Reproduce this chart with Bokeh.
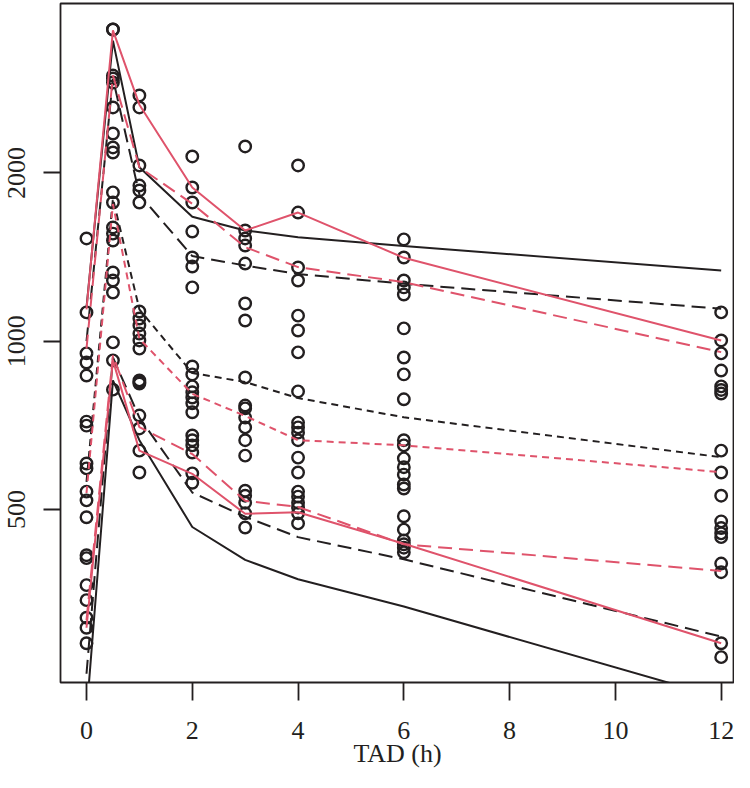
from bokeh.plotting import figure
from bokeh.models import Range1d, FixedTicker
from bokeh.embed import file_html
from bokeh.resources import INLINE

BLACK = "#231F20"
RED = "#DF536B"
FONT = "Liberation Serif"

# ---- data ----
times = [0, 0.5, 1, 2, 3, 4, 6, 12]

obs_t0 = [1527, 1126, 951, 916, 868, 718, 706, 604, 592, 538, 519, 484, 414, 409, 366, 344, 320, 307, 288]
obs_t05 = [3613, 3613, 2988, 2952, 2904, 2620, 2353, 2222, 2176, 1846, 1771, 1598, 1558, 1514, 1327, 1284, 1222, 995, 924, 819]
obs_t1 = [2753, 2620, 2063, 1899, 1861, 1771, 1130, 1098, 1067, 1032, 1003, 970, 851, 845, 840, 736, 698, 637, 582]
obs_t2 = [2141, 1884, 1771, 1571, 1412, 1360, 1248, 901, 872, 830, 810, 793, 774, 746, 678, 665, 651, 632, 580, 558]
obs_t3 = [2231, 1578, 1527, 1483, 1377, 1168, 1089, 861, 767, 758, 730, 701, 665, 624, 540, 529, 514, 492, 464]
obs_t4 = [2063, 1699, 1355, 1284, 1111, 1045, 955, 813, 715, 701, 686, 665, 619, 582, 538, 527, 514, 504, 492, 472]
obs_t6 = [1521, 1412, 1284, 1248, 1212, 1054, 935, 872, 787, 665, 651, 617, 595, 577, 554, 545, 486, 460, 440, 433, 427, 419]
obs_t12 = [1126, 1003, 951, 886, 830, 818, 806, 637, 582, 529, 476, 463, 453, 446, 400, 386, 288, 272]

sim_p05 = [215, 851, 665, 465, 406, 375, 335, 230]
sim_p10 = [254, 935, 730, 536, 485, 446, 407, 296]
sim_p50 = [560, 1800, 1140, 877, 845, 791, 731, 620]
sim_p90 = [1000, 2950, 1830, 1420, 1366, 1319, 1267, 1143]
sim_p95 = [1150, 3450, 2048, 1670, 1578, 1535, 1480, 1338]

obs_p05 = [307, 924, 637, 579, 491, 494, 434, 288]
obs_p10 = [317, 943, 702, 628, 518, 505, 433, 388]
obs_p50 = [535, 1760, 1010, 805, 735, 665, 651, 583]
obs_p90 = [970, 2990, 2048, 1762, 1473, 1357, 1275, 956]
obs_p95 = [1140, 3600, 2650, 1884, 1578, 1699, 1410, 1003]

x_ticks = [0, 2, 4, 6, 8, 10, 12]
y_ticks = [500, 1000, 2000]
x_label = "TAD (h)"

# ---- figure ----
p = figure(width=734, height=772,
           x_range=Range1d(-0.4916, 12.252), y_range=Range1d(245, 4021),
           y_axis_type="log", output_backend="svg", toolbar_location=None,
           min_border_left=60, min_border_right=0, min_border_top=3, min_border_bottom=90)
p.background_fill_color = "white"
p.border_fill_color = "white"
p.xgrid.visible = False
p.ygrid.visible = False
p.outline_line_color = BLACK
p.outline_line_width = 1.8

# x axis
p.xaxis.ticker = FixedTicker(ticks=x_ticks)
p.xaxis.axis_line_color = None
p.xaxis.major_tick_line_color = BLACK
p.xaxis.major_tick_line_width = 1.8
p.xaxis.major_tick_out = 18
p.xaxis.major_tick_in = 0
p.xaxis.minor_tick_line_color = None
p.xaxis.major_label_text_font = FONT
p.xaxis.major_label_text_font_size = "26px"
p.xaxis.major_label_text_color = BLACK
p.xaxis.major_label_standoff = 21
p.xaxis.axis_label = x_label
p.xaxis.axis_label_text_font = FONT
p.xaxis.axis_label_text_font_size = "26px"
p.xaxis.axis_label_text_font_style = "normal"
p.xaxis.axis_label_text_color = BLACK
p.xaxis.axis_label_standoff = -3

# y axis
p.yaxis.ticker = FixedTicker(ticks=y_ticks)
p.yaxis.axis_line_color = None
p.yaxis.major_tick_line_color = BLACK
p.yaxis.major_tick_line_width = 1.8
p.yaxis.major_tick_out = 17
p.yaxis.major_tick_in = 0
p.yaxis.minor_tick_line_color = None
p.yaxis.major_label_orientation = "vertical"
p.yaxis.major_label_text_font = FONT
p.yaxis.major_label_text_font_size = "26px"
p.yaxis.major_label_text_color = BLACK
p.yaxis.major_label_standoff = 18

# observed points
xs, ys = [], []
for t, vals in zip(times, [obs_t0, obs_t05, obs_t1, obs_t2, obs_t3, obs_t4, obs_t6, obs_t12]):
    xs += [t] * len(vals)
    ys += vals
p.scatter(xs, ys, marker="circle", size=11.5, fill_color=None, line_color=BLACK, line_width=2.4)

LONG = "14 7"
SHORT = "7 5"
LW = 2.0
# simulated percentiles (black)
p.line(times, sim_p95, line_color=BLACK, line_width=LW)
p.line(times, sim_p05, line_color=BLACK, line_width=LW)
p.line(times, sim_p90, line_color=BLACK, line_width=LW, line_dash=LONG)
p.line(times, sim_p10, line_color=BLACK, line_width=LW, line_dash=LONG)
p.line(times, sim_p50, line_color=BLACK, line_width=LW, line_dash=SHORT)
# observed percentiles (red)
p.line(times, obs_p95, line_color=RED, line_width=LW)
p.line(times, obs_p05, line_color=RED, line_width=LW)
p.line(times, obs_p90, line_color=RED, line_width=LW, line_dash=LONG)
p.line(times, obs_p10, line_color=RED, line_width=LW, line_dash=LONG)
p.line(times, obs_p50, line_color=RED, line_width=LW, line_dash=SHORT)

open("out.html", "w").write(file_html(p, INLINE))
